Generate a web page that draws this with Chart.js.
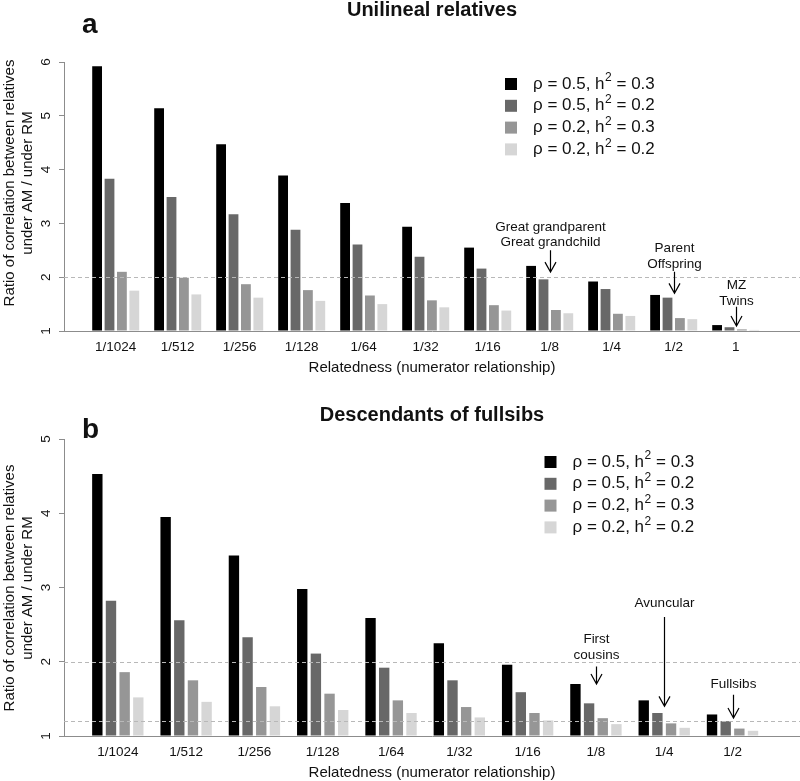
<!DOCTYPE html>
<html>
<head>
<meta charset="utf-8">
<script src="https://cdn.jsdelivr.net/npm/chart.js@4"></script>
<style>
  body { margin: 0; background: #fff; }
  .panel { position: relative; width: 800px; }
</style>
</head>
<body>
<div class="panel" style="height:376px"><canvas id="chartA"></canvas></div>
<div class="panel" style="height:405px"><canvas id="chartB"></canvas></div>
<script>
// legend text is split round the superscript: [before, sup, after]
const seriesLabels = [
  ['ρ = 0.5, h', '2', ' = 0.3'],
  ['ρ = 0.5, h', '2', ' = 0.2'],
  ['ρ = 0.2, h', '2', ' = 0.3'],
  ['ρ = 0.2, h', '2', ' = 0.2'],
];
const seriesColors = ['#000000', '#686868', '#969696', '#d6d6d6'];

// panel a: unilineal relatives
const uniCats = ['1/1024', '1/512', '1/256', '1/128', '1/64', '1/32', '1/16', '1/8', '1/4', '1/2', '1'];
const uniR5H3 = [5.92, 5.14, 4.47, 3.89, 3.38, 2.94, 2.55, 2.21, 1.92, 1.67, 1.11];
const uniR5H2 = [3.83, 3.49, 3.17, 2.88, 2.61, 2.38, 2.16, 1.96, 1.78, 1.62, 1.07];
const uniR2H3 = [2.10, 1.99, 1.87, 1.76, 1.66, 1.57, 1.48, 1.39, 1.32, 1.24, 1.03];
const uniR2H2 = [1.75, 1.68, 1.62, 1.56, 1.50, 1.44, 1.38, 1.33, 1.28, 1.22, 1.02];
const uniRefLines = [2];
const uniNotes = [
  { at: 7, tip: 2.095, tail: 2.50, text: ['Great grandparent', 'Great grandchild'], textY: [2.937, 2.647] },
  { at: 9, tip: 1.70, tail: 2.10, text: ['Parent', 'Offspring'], textY: [2.535, 2.238] },
  { at: 10, tip: 1.093, tail: 1.451, text: ['MZ', 'Twins'], textY: [1.841, 1.544] },
];

// panel b: descendants of fullsibs
const fsCats = ['1/1024', '1/512', '1/256', '1/128', '1/64', '1/32', '1/16', '1/8', '1/4', '1/2'];
const fsR5H3 = [4.53, 3.95, 3.43, 2.98, 2.59, 2.25, 1.96, 1.70, 1.48, 1.29];
const fsR5H2 = [2.82, 2.56, 2.33, 2.11, 1.92, 1.75, 1.59, 1.44, 1.31, 1.20];
const fsR2H3 = [1.86, 1.75, 1.66, 1.57, 1.48, 1.39, 1.31, 1.24, 1.17, 1.10];
const fsR2H2 = [1.52, 1.46, 1.40, 1.35, 1.31, 1.25, 1.21, 1.16, 1.11, 1.07];
const fsRefLines = [2, 1.2];
const fsNotes = [
  { at: 7, tip: 1.70, tail: 1.937, text: ['First', 'cousins'], textY: [2.306, 2.081] },
  { at: 8, tip: 1.399, tail: 2.603, text: ['Avuncular'], textY: [2.791] },
  { at: 9, tip: 1.242, tail: 1.556, text: ['Fullsibs'], textY: [1.691] },
];

const FONT = '"Liberation Sans", Arial, Helvetica, sans-serif';
const axisCol = '#8c8c8c';
const txtCol = '#111';

const decor = {
  id: 'decor',
  afterDatasetsDraw(chart, args, o) {
    const { ctx, chartArea: a, scales: { x, y } } = chart;
    ctx.save();
    // dashed reference lines
    ctx.strokeStyle = '#b8b8b8';
    ctx.lineWidth = 1;
    ctx.setLineDash([4, 3]);
    for (const v of o.refLines) {
      const py = Math.round(y.getPixelForValue(v)) + 0.5;
      ctx.beginPath(); ctx.moveTo(a.left, py); ctx.lineTo(a.right, py); ctx.stroke();
    }
    ctx.setLineDash([]);

    // arrows + labels
    ctx.strokeStyle = '#000';
    ctx.fillStyle = txtCol;
    ctx.lineWidth = 1.2;
    ctx.font = '13.5px ' + FONT;
    ctx.textAlign = 'center';
    ctx.textBaseline = 'middle';
    for (const n of o.notes) {
      const px = Math.round(x.getPixelForValue(n.at)) + 0.5;
      const y0 = y.getPixelForValue(n.tail), y1 = y.getPixelForValue(n.tip);
      ctx.beginPath();
      ctx.moveTo(px, y0); ctx.lineTo(px, y1);
      ctx.moveTo(px - 5.5, y1 - 10); ctx.lineTo(px, y1); ctx.lineTo(px + 5.5, y1 - 10);
      ctx.stroke();
      n.text.forEach((t, i) => ctx.fillText(t, px, y.getPixelForValue(n.textY[i])));
    }

    // legend
    ctx.textAlign = 'left';
    chart.data.datasets.forEach((ds, i) => {
      const cy = o.legY + i * 21.8;
      ctx.fillStyle = ds.backgroundColor;
      ctx.fillRect(o.legX - 6, cy - 6, 12, 12);
      ctx.fillStyle = txtCol;
      const [pre, sup, post] = ds.label;
      let tx = o.legX + 22;
      ctx.font = '17px ' + FONT;
      ctx.fillText(pre, tx, cy);
      tx += ctx.measureText(pre).width + 0.5;
      ctx.font = '12px ' + FONT;
      ctx.fillText(sup, tx, cy - 6);
      tx += ctx.measureText(sup).width;
      ctx.font = '17px ' + FONT;
      ctx.fillText(post, tx, cy);
    });

    // titles
    ctx.fillStyle = txtCol;
    ctx.textBaseline = 'alphabetic';
    ctx.textAlign = 'center';
    ctx.font = 'bold 20px ' + FONT;
    ctx.fillText(o.title, (a.left + a.right) / 2, o.titleY);
    ctx.textAlign = 'left';
    ctx.font = 'bold 28px ' + FONT;
    ctx.fillText(o.letter, 82, o.letterY);

    // y axis title, two rotated lines
    ctx.font = '15px ' + FONT;
    ctx.textAlign = 'center';
    ctx.textBaseline = 'middle';
    o.yTitle.forEach((t, i) => {
      ctx.save();
      ctx.translate(10 + i * 18, o.yTitleMid);
      ctx.rotate(-Math.PI / 2);
      ctx.fillText(t, 0, 0);
      ctx.restore();
    });
    ctx.restore();
  },
};

function makeChart(id, cats, series, o) {
  return new Chart(document.getElementById(id), {
    type: 'bar',
    data: {
      labels: cats.map((_, i) => i),
      datasets: series.map((d, i) => ({
        label: seriesLabels[i], data: d, backgroundColor: seriesColors[i],
        borderWidth: 0, base: 1, categoryPercentage: 0.8, barPercentage: o.barPct,
      })),
    },
    options: {
      responsive: true, maintainAspectRatio: false, animation: false,
      layout: { padding: { top: o.top, left: 0, right: 0, bottom: 0 } },
      plugins: { legend: { display: false }, tooltip: { enabled: false }, decor: o },
      scales: {
        x: {
          type: 'linear', min: o.xMin, max: o.xMax, offset: false,
          afterFit: s => { s.height = o.xHeight; },
          afterBuildTicks: s => { s.ticks = cats.map((_, i) => ({ value: i })); },
          grid: { display: false, drawTicks: false, offset: false },
          border: { color: axisCol, width: 1 },
          ticks: { callback: v => cats[v], font: { family: FONT, size: 13.5 }, color: txtCol, padding: 8, maxRotation: 0, autoSkip: false },
          title: { display: true, text: 'Relatedness (numerator relationship)', font: { family: FONT, size: 15 }, color: txtCol, padding: { top: 0, bottom: -1 } },
        },
        y: {
          min: 1, max: o.yMax,
          afterFit: s => { s.width = 64; },
          grid: { drawOnChartArea: false, drawTicks: true, tickLength: 5, color: axisCol },
          border: { color: axisCol, width: 1 },
          ticks: { stepSize: 1, minRotation: 90, maxRotation: 90, crossAlign: 'center', padding: 9, font: { family: FONT, size: 13.5 }, color: txtCol },
        },
      },
    },
    plugins: [decor],
  });
}

const yTitle = ['Ratio of correlation between relatives', 'under AM / under RM'];

makeChart('chartA', uniCats, [uniR5H3, uniR5H2, uniR2H3, uniR2H2], {
  top: 62, xHeight: 45, yMax: 6, xMin: -0.834, xMax: 11.037, barPct: 0.79,
  refLines: uniRefLines, notes: uniNotes, legX: 511, legY: 84,
  title: 'Unilineal relatives', titleY: 16, letter: 'a', letterY: 33,
  yTitle, yTitleMid: 183,
});

makeChart('chartB', fsCats, [fsR5H3, fsR5H2, fsR2H3, fsR2H2], {
  top: 63, xHeight: 45, yMax: 5, xMin: -0.788, xMax: 9.988, barPct: 0.76,
  refLines: fsRefLines, notes: fsNotes, legX: 550.5, legY: 86,
  title: 'Descendants of fullsibs', titleY: 45, letter: 'b', letterY: 62,
  yTitle, yTitleMid: 212,
});
</script>
</body>
</html>
